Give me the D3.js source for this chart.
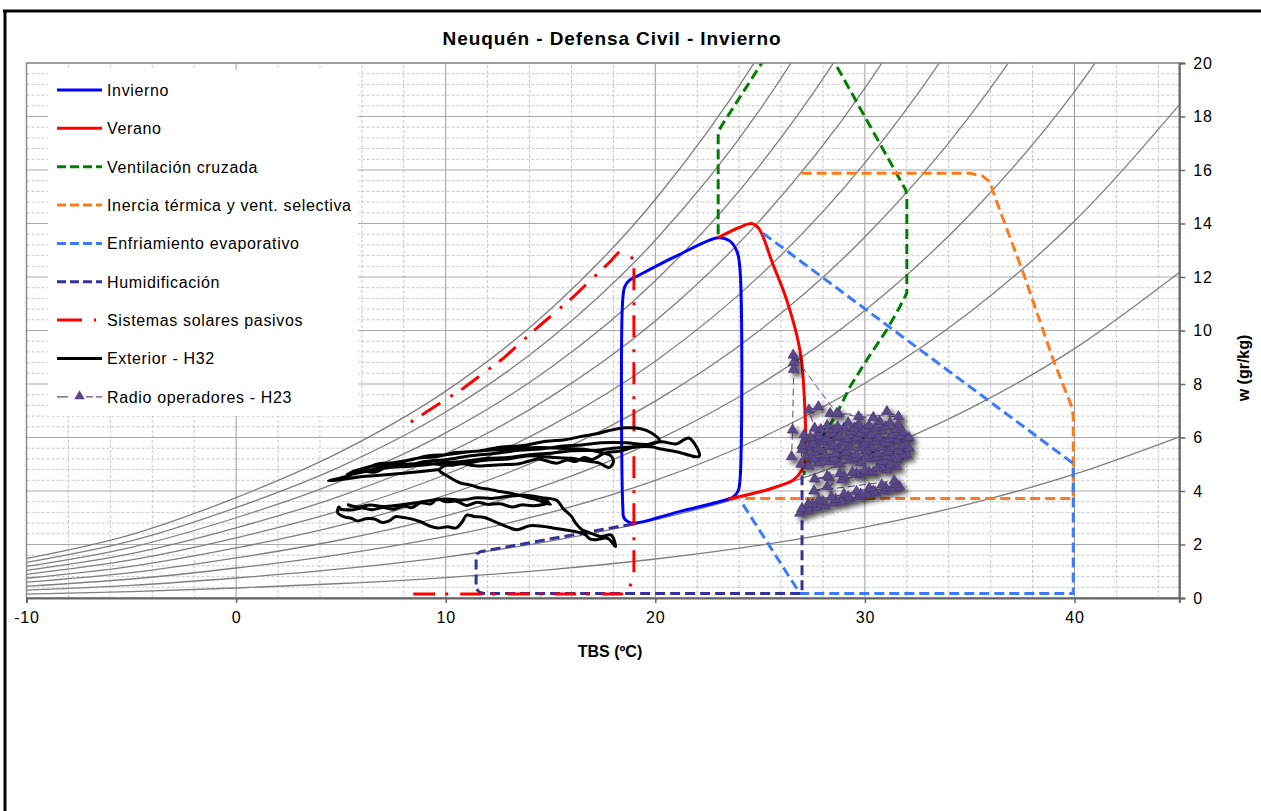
<!DOCTYPE html>
<html>
<head>
<meta charset="utf-8">
<title>Neuquén - Defensa Civil - Invierno</title>
<script src="https://d3js.org/d3.v7.min.js"></script>
<style>
  body { margin: 0; background: #fff; }
  svg text { font-family: "Liberation Sans", Arial, sans-serif; fill: #000; }
</style>
</head>
<body>
<script>
// ---- datos ----
// curvas de humedad relativa: presion de saturacion (kPa) por temperatura
var satTemps = [-10, -5, 0, 5, 10, 15, 20, 25, 30, 35, 40, 45];
var satPressure = [0.237, 0.38, 0.600, 0.872, 1.228, 1.706, 2.339, 3.170, 4.247, 5.629, 7.384, 9.594];
var rhLevels = [10, 20, 30, 40, 50, 60, 70, 80, 90, 100];
var atmPressure = 100.0;

var xTicks = [-10, 0, 10, 20, 30, 40];
var yTicks = [0, 2, 4, 6, 8, 10, 12, 14, 16, 18, 20];

// zonas de Givoni (TBS ºC, w gr/kg)
var inviernoT = [18.45, 18.55, 18.8, 19.05, 21.0, 23.0, 23.55, 23.9, 24.04, 24.04, 23.95, 23.75, 23.5, 21.2, 19.0, 18.7, 18.5, 18.45];
var inviernoW = [11.2, 11.65, 11.9, 12.0, 12.78, 13.47, 13.35, 12.95, 12.3, 4.4, 4.0, 3.8, 3.70, 3.24, 2.80, 2.85, 3.0, 3.4];

var veranoT = [23.0, 24.0, 24.6, 24.95, 25.6, 26.27, 26.9, 27.1, 27.14, 27.0, 26.58, 25.79, 24.99, 23.48];
var veranoW = [13.47, 13.85, 14.0, 13.8, 12.5, 11.14, 9.27, 7.65, 5.2, 4.79, 4.41, 4.16, 3.97, 3.70];

var ventilacionT = [23.0, 23.0, 23.05, 23.2, 25.08, 26.95, 28.57, 31.95, 32.0, 32.0, 31.67, 31.04, 30.09, 29.29, 28.66, 28.0, 27.22, 27.1, 27.1];
var ventilacionW = [13.6, 17.3, 17.5, 17.7, 20.0, 22.27, 20.0, 15.25, 15.0, 11.4, 10.89, 10.02, 8.9, 7.9, 6.9, 6.03, 5.03, 4.8, 4.6];

var inerciaT = [26.98, 35.0, 35.6, 35.97, 36.2, 37.56, 38.99, 39.87, 39.94, 39.94, 24.0];
var inerciaW = [15.88, 15.88, 15.78, 15.56, 15.0, 12.14, 8.9, 7.15, 6.8, 3.72, 3.72];

var enfriamientoT = [25.15, 39.94, 39.94, 26.9, 24.05];
var enfriamientoW = [13.63, 5.03, 0.17, 0.17, 3.66];

var humidificacionT = [18.95, 11.64, 11.5, 11.45, 11.45, 11.6, 11.8, 27.0, 27.0];
var humidificacionW = [2.77, 1.73, 1.65, 1.45, 0.35, 0.22, 0.17, 0.17, 4.78];

var solaresT = [8.45, 18.4, 18.7, 18.98, 18.98, 18.71, 18.23, 17.84, 16.09, 14.42, 12.75, 10.84, 7.98];
var solaresW = [0.15, 0.15, 0.3, 0.75, 12.66, 12.82, 12.91, 12.57, 11.26, 10.14, 8.96, 7.84, 6.40];

// Exterior - H32 [TBS, w]
var exterior = [
  [9.7,4.80],[8.0,4.66],[6.2,4.55],[4.9,4.42],[4.4,4.38],[5.3,4.55],[5.9,4.75],[6.6,4.70],[7.2,4.90],[8.1,4.95],
  [9.0,5.10],[10.1,5.18],[11.2,5.32],[12.3,5.40],[13.5,5.52],[14.6,5.58],[15.6,5.68],[16.5,5.72],[17.4,5.80],[18.6,5.80],
  [19.6,5.74],[20.3,5.84],[21.0,5.76],[21.6,5.98],[22.1,5.30],[21.0,5.47],[20.2,5.58],[19.8,5.65],[18.0,5.60],[17.2,5.52],
  [16.0,5.50],[15.1,5.42],[14.0,5.36],[13.0,5.25],[12.0,5.22],[11.0,5.12],[10.0,5.06],[9.1,4.98],[8.2,4.92],[7.3,4.88],
  [6.5,4.78],[5.3,4.62],
  [6.2,4.85],[6.8,5.02],[7.7,5.06],[8.6,5.22],[9.5,5.28],[10.5,5.44],[11.6,5.50],[12.6,5.64],[13.7,5.70],[14.8,5.86],
  [15.7,5.92],[16.6,6.06],[17.2,6.14],[17.8,6.26],[18.6,6.36],[19.3,6.33],[19.8,6.18],[20.2,5.88],[19.5,5.70],[18.9,5.62],
  [18.4,5.50],[17.6,5.42],[17.0,5.18],[16.6,5.25],[16.2,5.10],[15.8,5.16],[15.3,5.04],[14.4,5.20],[13.9,5.10],[13.5,5.02],
  [12.6,4.98],[11.4,4.94],[10.8,5.02],[10.2,4.96],[9.0,5.04],[7.8,4.98],[6.8,4.86],[6.0,4.70],[5.4,4.66],
  [6.4,4.92],[7.5,5.06],[8.3,5.16],[9.2,5.32],[10.1,5.36],[11.0,5.46],[12.0,5.52],[13.0,5.56],[14.0,5.62],[15.0,5.62],
  [15.8,5.58],[16.6,5.56],[17.4,5.44],[17.9,5.30],[18.0,5.08],[17.8,4.88],[17.3,5.05],[16.6,5.14],[16.0,5.22],[15.0,5.26],
  [14.0,5.32],[13.0,5.20],[12.0,5.16],[11.0,5.05],[10.0,4.96],[9.7,4.78],
  [10.1,4.55],[10.7,4.30],[11.2,4.22],[11.6,4.12],[12.1,4.06],[12.6,3.98],[13.1,3.92],[13.6,3.82],[14.0,3.74],[14.4,3.66],
  [15.0,3.50],[14.6,3.72],[14.9,3.58],[14.2,3.45],[13.6,3.48],[13.2,3.40],
  [12.6,3.52],[12.0,3.50],[11.5,3.58],[11.0,3.46],[10.5,3.62],[10.0,3.60],[9.6,3.70],[9.3,3.52],[8.8,3.56],[8.4,3.38],
  [8.0,3.44],[7.5,3.32],[7.0,3.38],[6.5,3.30],[6.0,3.36],[5.6,3.30],[5.0,3.32],[4.9,3.40],[4.85,3.18],[5.2,3.02],
  [5.5,2.98],[5.8,2.88],[6.2,2.96],[6.6,2.95],[7.0,2.82],[7.3,2.88],[7.6,3.04],[7.9,3.02],[8.4,2.95],[8.8,2.85],
  [9.2,2.70],[9.6,2.62],[10.1,2.66],[10.5,2.62],[10.8,2.86],[11.0,3.10],[11.4,3.04],[11.8,3.02],[12.2,2.90],[12.5,2.80],
  [13.0,2.64],[13.4,2.55],[14.0,2.70],[14.6,2.68],[15.1,2.62],[15.6,2.56],[16.2,2.48],[16.6,2.40],[16.9,2.20],[17.2,2.18],
  [17.6,2.24],[17.8,2.20],[18.1,1.92],[17.9,2.35],[17.4,2.30],[17.0,2.40],[16.5,2.55],
  [16.2,2.80],[16.0,3.05],[15.6,3.35],[15.3,3.65],[14.6,3.75],[13.8,3.84],[13.0,3.80],[12.2,3.72],[11.5,3.75],[10.8,3.66],
  [10.0,3.70],[9.2,3.64],[8.5,3.55],[7.8,3.48],[7.0,3.42],[6.4,3.48],[5.8,3.40],[5.3,3.50]
];

// Radio operadores - H23 [TBS, w]
var radio = [
  [26.9,3.17],[27.3,3.28],[27.7,3.38],[28.1,3.45],[28.5,3.55],[28.9,3.62],[29.3,3.70],[29.7,3.78],[30.1,3.86],[30.5,3.93],[30.9,4.00],[31.3,4.08],[31.65,4.16],
  [31.5,4.25],[31.0,4.12],[30.4,4.00],[29.8,3.88],[29.2,3.78],[28.6,3.68],[28.0,3.60],[27.5,3.50],[27.0,3.35],
  [27.3,3.52],[27.8,3.66],[28.4,3.78],[29.0,3.88],[29.6,3.98],[30.2,4.10],[30.8,4.22],[31.4,4.38],
  [27.57,4.0],[28.2,4.16],[28.9,4.41],[29.77,4.60],[30.4,4.70],[31.05,4.79],[31.5,4.91],[32.0,5.35],
  [30.8,4.9],[30.2,4.7],[29.6,4.65],[29.0,4.55],[28.3,4.5],
  [27.6,4.45],[28.2,4.55],[28.8,4.65],[29.4,4.7],[30.0,4.75],[30.6,4.85],[31.2,5.0],
  [31.8,5.35],[31.3,5.25],[30.8,5.1],[30.3,5.2],[29.8,5.05],[29.3,5.15],[28.8,5.0],[28.3,5.1],[27.8,5.05],[27.3,4.95],
  [27.55,5.2],[28.05,5.25],[28.55,5.2],[29.05,5.3],[29.55,5.25],[30.05,5.3],[30.55,5.25],[31.05,5.3],[31.55,5.2],
  [32.1,5.6],[31.6,5.5],[31.1,5.45],[30.6,5.4],[30.1,5.5],[29.6,5.35],[29.1,5.45],[28.6,5.4],[28.1,5.35],[27.6,5.45],[27.2,5.3],
  [27.25,5.65],[27.75,5.6],[28.25,5.65],[28.75,5.6],[29.25,5.65],[29.75,5.6],[30.25,5.65],[30.75,5.62],[31.25,5.65],[31.75,5.7],
  [32.0,5.95],[31.5,5.9],[31.0,5.8],[30.5,5.85],[30.0,5.75],[29.5,5.9],[29.0,5.8],[28.5,5.7],[28.0,5.85],[27.5,5.75],[27.0,5.55],
  [27.15,5.95],[27.65,6.0],[28.15,5.95],[28.65,6.0],[29.15,5.95],[29.65,6.0],[30.15,5.95],[30.65,6.0],[31.15,5.95],[31.65,6.05],[32.1,6.0],
  [31.8,6.2],[31.3,6.1],[30.8,6.25],[30.3,6.1],[29.8,6.15],[29.3,6.2],[28.8,6.05],[28.3,6.15],[27.8,6.05],[27.4,6.0],
  [27.9,6.3],[28.5,6.3],[29.0,6.35],[29.5,6.35],[30.0,6.3],[30.5,6.35],[31.0,6.4],[31.5,6.3],
  [31.6,6.5],[31.2,6.55],[30.7,6.6],[30.2,6.45],[29.7,6.5],[29.2,6.55],[28.7,6.4],[28.2,6.45],[27.6,6.35],
  [27.33,7.03],[27.78,7.15],[28.34,6.9],[28.74,6.9],[29.7,6.78],[30.4,6.75],[31.05,6.97],[31.6,6.78],
  [28.66,6.9],[26.58,9.08],[26.6,8.8],[26.6,8.55],[26.55,6.28],[26.5,5.28],[26.95,5.0],[27.0,5.7],[27.1,6.1]
];

var legendLabels = ["Invierno", "Verano", "Ventilación cruzada", "Inercia térmica y vent. selectiva",
  "Enfriamiento evaporativo", "Humidificación", "Sistemas solares pasivos", "Exterior - H32", "Radio operadores - H23"];

// ---- dibujo ----
var W = 1261, H = 811;
var svg = d3.select("body").append("svg").attr("width", W).attr("height", H);

var x = d3.scaleLinear().domain([-10, 45]).range([26.5, 1179.3]);
var y = d3.scaleLinear().domain([0, 20]).range([598, 63]);

function pts(ts, ws) { return d3.zip(ts, ws); }

var defs = svg.append("defs");
defs.append("clipPath").attr("id", "plot")
  .append("rect").attr("x", x(-10)).attr("y", y(20))
  .attr("width", x(45) - x(-10)).attr("height", y(0) - y(20));
var f = defs.append("filter").attr("id", "sombra")
  .attr("x", "-20%").attr("y", "-20%").attr("width", "150%").attr("height", "150%");
f.append("feDropShadow").attr("dx", 3.5).attr("dy", 3.5).attr("stdDeviation", 2.5)
  .attr("flood-color", "#000").attr("flood-opacity", 0.72);

// marco exterior
svg.append("line").attr("x1", 3).attr("x2", W).attr("y1", 11).attr("y2", 11)
  .attr("stroke", "#000").attr("stroke-width", 3);
svg.append("line").attr("x1", 5).attr("x2", 5).attr("y1", 10).attr("y2", H)
  .attr("stroke", "#000").attr("stroke-width", 3);

// titulo
svg.append("text").attr("x", 612).attr("y", 45).attr("text-anchor", "middle")
  .style("font-size", "19px").style("font-weight", "bold").style("letter-spacing", "0.9px")
  .text("Neuquén - Defensa Civil - Invierno");

// grilla
function menor(v) { return Math.abs(v / 2 - Math.round(v / 2)) > 1e-6; }
var grid = svg.append("g");
d3.range(-8, 45, 2).filter(function (v) { return v % 10 !== 0; }).forEach(function (v) {
  grid.append("line").attr("x1", x(v)).attr("x2", x(v)).attr("y1", y(0)).attr("y2", y(20))
    .attr("stroke", "#c6c6c6").attr("stroke-dasharray", "3,2");
});
d3.range(1, 50).map(function (i) { return i * 0.4; }).filter(menor).forEach(function (v) {
  grid.append("line").attr("x1", x(-10)).attr("x2", x(45)).attr("y1", y(v)).attr("y2", y(v))
    .attr("stroke", "#c6c6c6").attr("stroke-dasharray", "3,2");
});
xTicks.forEach(function (v) {
  grid.append("line").attr("x1", x(v)).attr("x2", x(v)).attr("y1", y(0)).attr("y2", y(20))
    .attr("stroke", "#9a9a9a");
});
yTicks.forEach(function (v) {
  grid.append("line").attr("x1", x(-10)).attr("x2", x(45)).attr("y1", y(v)).attr("y2", y(v))
    .attr("stroke", "#a8a8a8");
});

var plot = svg.append("g").attr("clip-path", "url(#plot)");

// curvas de humedad relativa
var rhLine = d3.line().x(function (d) { return x(d[0]); }).y(function (d) { return y(d[1]); })
  .curve(d3.curveMonotoneX);
rhLevels.forEach(function (rh) {
  var data = satTemps.map(function (t, i) {
    var pv = rh / 100 * satPressure[i];
    return [t, 622 * pv / (atmPressure - pv)];
  });
  plot.append("path").datum(data).attr("d", rhLine)
    .attr("fill", "none").attr("stroke", "#7f7f7f").attr("stroke-width", 1.3);
});

// borde del area de grafico
svg.append("rect").attr("x", x(-10)).attr("y", y(20))
  .attr("width", x(45) - x(-10)).attr("height", y(0) - y(20))
  .attr("fill", "none").attr("stroke", "#8c8c8c").attr("stroke-width", 1.5);

// leyenda (fondo blanco)
svg.append("rect").attr("x", 48).attr("y", 70).attr("width", 310).attr("height", 346).attr("fill", "#fff");

var line = d3.line().x(function (d) { return x(d[0]); }).y(function (d) { return y(d[1]); });
var smooth = d3.line().x(function (d) { return x(d[0]); }).y(function (d) { return y(d[1]); })
  .curve(d3.curveCatmullRom.alpha(0.5));
var smoothClosed = d3.line().x(function (d) { return x(d[0]); }).y(function (d) { return y(d[1]); })
  .curve(d3.curveCatmullRomClosed.alpha(0.5));

var styles = [
  { color: "#0000ff", dash: null, width: 3 },
  { color: "#ff0000", dash: null, width: 3 },
  { color: "#008000", dash: "10,5", width: 3 },
  { color: "#ff7a1a", dash: "10,5", width: 3 },
  { color: "#3a7bff", dash: "10,5", width: 3 },
  { color: "#333399", dash: "10,5", width: 3 },
  { color: "#ff0000", dash: "22,10,3,12", width: 3 },
  { color: "#000000", dash: null, width: 3 },
  { color: "#5e4b8b", dash: "7,4", width: 1 }
];

function serie(gen, data, s) {
  plot.append("path").datum(data).attr("d", gen)
    .attr("fill", "none").attr("stroke", s.color).attr("stroke-width", s.width)
    .attr("stroke-dasharray", s.dash).attr("stroke-linejoin", "round");
}
serie(smoothClosed, pts(inviernoT, inviernoW), styles[0]);
serie(smooth, pts(veranoT, veranoW), styles[1]);
serie(line, pts(ventilacionT, ventilacionW), styles[2]);
serie(line, pts(inerciaT, inerciaW), styles[3]);
serie(line, pts(enfriamientoT, enfriamientoW), styles[4]);
serie(line, pts(humidificacionT, humidificacionW), styles[5]);
serie(line, pts(solaresT, solaresW), styles[6]);
serie(smooth, exterior, styles[7]);

serie(line, radio, styles[8]);
var tri = d3.symbol().type(d3.symbolTriangle).size(48);
plot.append("g").attr("filter", "url(#sombra)")
  .selectAll("path").data(radio).enter().append("path")
  .attr("d", tri)
  .attr("transform", function (d) { return "translate(" + x(d[0]) + "," + y(d[1]) + ")"; })
  .attr("fill", "#5a4887").attr("stroke", "#46366f").attr("stroke-width", 0.7);

// ejes
var xAxis = svg.append("g").attr("transform", "translate(0," + y(0) + ")")
  .call(d3.axisBottom(x).tickValues(xTicks).tickSize(5).tickPadding(9).tickFormat(function (d) { return String(d); }));
var yAxis = svg.append("g").attr("transform", "translate(" + x(45) + ",0)")
  .call(d3.axisRight(y).tickValues(yTicks).tickSize(6).tickPadding(8).tickFormat(function (d) { return String(d); }));
[xAxis, yAxis].forEach(function (a) {
  a.select(".domain").attr("stroke", "#666").attr("stroke-width", 2);
  a.selectAll(".tick line").attr("stroke", "#666").attr("stroke-width", 1.5);
  a.selectAll(".tick text").style("font-size", "16px").style("letter-spacing", "0.8px")
    .attr("fill", "#000").style("font-family", "'Liberation Sans', Arial, sans-serif");
});

svg.append("text").attr("x", 610).attr("y", 657).attr("text-anchor", "middle")
  .style("font-size", "16px").style("font-weight", "bold").text("TBS (ºC)");
svg.append("text").attr("transform", "translate(1249,368) rotate(-90)").attr("text-anchor", "middle")
  .style("font-size", "16px").style("font-weight", "bold").text("w (gr/kg)");

// leyenda
var leg = svg.append("g");
legendLabels.forEach(function (lab, i) {
  var ly = 90 + i * 38.35;
  var s = styles[i];
  if (i === 6) {
    leg.append("line").attr("x1", 57).attr("x2", 102).attr("y1", ly).attr("y2", ly)
      .attr("stroke", s.color).attr("stroke-width", 3).attr("stroke-dasharray", "25,12,2,20");
  } else if (i === 8) {
    leg.append("line").attr("x1", 57).attr("x2", 102).attr("y1", ly).attr("y2", ly)
      .attr("stroke", s.color).attr("stroke-width", 1.2).attr("stroke-dasharray", "11,18,7,3,6");
    leg.append("path").attr("d", tri).attr("transform", "translate(79.5," + (ly - 0.5) + ")")
      .attr("fill", "#5a4887");
  } else {
    leg.append("line").attr("x1", 57).attr("x2", 102).attr("y1", ly).attr("y2", ly)
      .attr("stroke", s.color).attr("stroke-width", 3).attr("stroke-dasharray", s.dash ? "9,4" : null);
  }
  leg.append("text").attr("x", 107).attr("y", ly + 6)
    .style("font-size", "16px").style("letter-spacing", "0.65px").text(lab);
});
</script>
</body>
</html>
